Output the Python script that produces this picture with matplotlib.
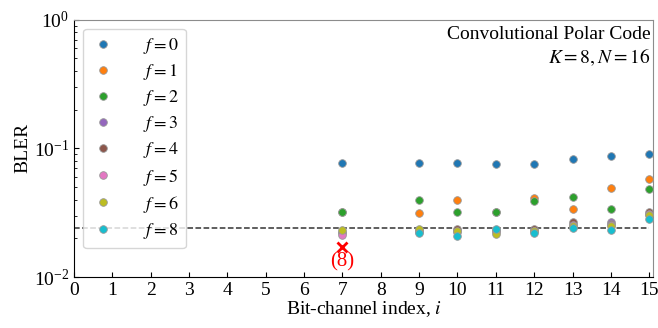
import numpy as np
import matplotlib
matplotlib.use("Agg")
import matplotlib.pyplot as plt

plt.rcParams['font.family'] = ['Liberation Serif', 'DejaVu Serif']
plt.rcParams['mathtext.fontset'] = 'stix'

# bit-channel indices with results
idx = [7, 9, 10, 11, 12, 13, 14, 15]

# BLER per frozen-bit setting f
bler = {
    0: [0.0767, 0.0767, 0.0767, 0.0757, 0.0753, 0.0824, 0.0870, 0.0906],
    1: [0.0320, 0.0313, 0.0397, 0.0320, 0.0410, 0.0336, 0.0490, 0.0576],
    2: [0.0320, 0.0397, 0.0319, 0.0319, 0.0390, 0.0417, 0.0336, 0.0484],
    3: [0.0220, 0.0228, 0.0232, 0.0230, 0.0228, 0.0258, 0.0267, 0.0310],
    4: [0.0225, 0.0232, 0.0238, 0.0232, 0.0235, 0.0267, 0.0258, 0.0319],
    5: [0.0212, 0.0225, 0.0224, 0.0226, 0.0230, 0.0252, 0.0255, 0.0308],
    6: [0.0232, 0.0235, 0.0230, 0.0217, 0.0228, 0.0249, 0.0249, 0.0304],
    8: [None, 0.0219, 0.0208, 0.0236, 0.0219, 0.0242, 0.0232, 0.0283],
}
f8_at7 = 0.0171      # marked separately with a red cross
threshold = 0.024

colors = ['#1f77b4', '#ff7f0e', '#2ca02c', '#9467bd', '#8c564b',
          '#e377c2', '#bcbd22', '#17becf']

fig = plt.figure(figsize=(6.58, 3.28), dpi=100)
ax = fig.add_axes([0.1125, 0.155, 0.88, 0.785])

ax.hlines(threshold, 0, 15, colors='0.2', linestyles='--', lw=1.1, zorder=1)

for c, (f, vals) in zip(colors, bler.items()):
    xs = [x for x, v in zip(idx, vals) if v is not None]
    ys = [v for v in vals if v is not None]
    ax.plot(xs, ys, 'o', color=c, ms=5.5, mec='0.6', mew=0.6,
            label=r'$f=%d$' % f, zorder=3)

ax.plot(7, f8_at7, 'x', color='red', ms=7, mew=2, zorder=4)
ax.text(7, 0.0131, '(8)', color='red', ha='center', va='center', fontsize=15)

ax.set_yscale('log')
ax.set_ylim(1e-2, 1)
ax.set_xlim(0, 15.1)
ax.set_xticks(range(16))
ax.tick_params(direction='in', labelsize=14)
ax.tick_params(which='minor', direction='in')
ax.set_xlabel(r'Bit-channel index, $i$', fontsize=14, labelpad=0)
ax.set_ylabel('BLER', fontsize=14, labelpad=2)

for s in ['top', 'right']:
    ax.spines[s].set_color('0.55')

ax.text(0.995, 0.975, 'Convolutional Polar Code', transform=ax.transAxes,
        ha='right', va='top', fontsize=14)
ax.text(0.995, 0.895, r'$K=8, N=16$', transform=ax.transAxes,
        ha='right', va='top', fontsize=14)

ax.legend(loc='upper left', fontsize=13, handletextpad=1.5, labelspacing=0.34,
          borderpad=0.4, handlelength=1.4, framealpha=0.8, borderaxespad=0.5)

fig.savefig('out.png', dpi=100)
